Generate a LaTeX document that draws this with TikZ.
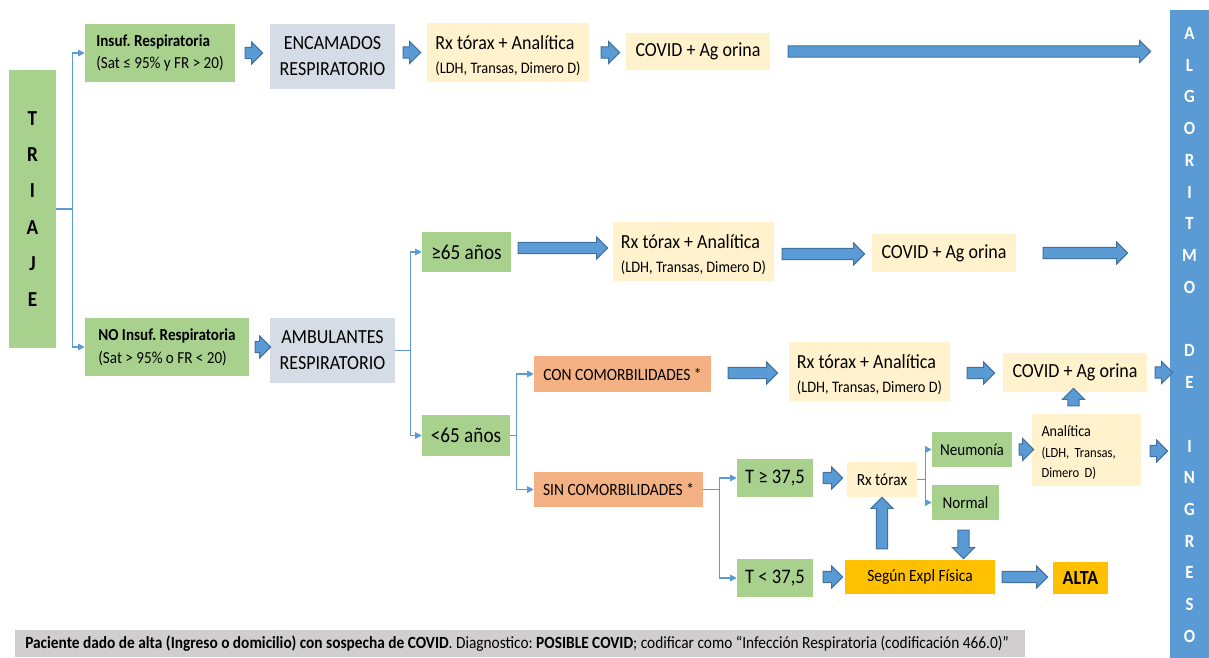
\documentclass[tikz,border=0pt]{standalone}
\usepackage{fontspec}
\setmainfont{Carlito}[FakeStretch=0.9]
\usetikzlibrary{arrows.meta,calc,shapes.arrows}
\definecolor{boxgreen}{HTML}{A9D18E}
\definecolor{boxgray}{HTML}{D6DCE5}
\definecolor{boxyellow}{HTML}{FFF2CC}
\definecolor{boxsalmon}{HTML}{F4B183}
\definecolor{boxgold}{HTML}{FFC000}
\definecolor{barblue}{HTML}{5B9BD5}
\definecolor{lineblue}{HTML}{5B9BD5}
\definecolor{arrowblue}{HTML}{5B9BD5}
\definecolor{arrowedge}{HTML}{41719C}
\definecolor{footgray}{HTML}{D0CECE}
\tikzset{box/.style={inner sep=0pt, align=center, font=\fontsize{15}{19.5}\selectfont},
  grn/.style={box, fill=boxgreen}, gry/.style={box, fill=boxgray},
  ylw/.style={box, fill=boxyellow}, sal/.style={box, fill=boxsalmon},
  gld/.style={box, fill=boxgold},
  sz/.style 2 args={minimum width=#1*0.75pt, minimum height=#2*0.75pt},
  lnk/.style={draw=lineblue, line width=0.8pt},
  lnkarr/.style={lnk, -{Triangle[length=5pt,width=5pt]}},
  blk/.style={single arrow, draw=arrowedge, fill=arrowblue, line width=0.8pt,
    single arrow head extend=4pt, single arrow tip angle=90, inner xsep=0pt, inner ysep=3.8pt}}
\newcommand\subtxt[1]{{\fontsize{12}{14}\selectfont #1}}
\newcommand\topstrut{\rule{0pt}{15pt}}
\newcommand\blkarr[2]{\path let \p1=#1, \p2=#2, \n1={veclen(\x2-\x1,\y2-\y1)}, \n2={atan2(\y2-\y1,\x2-\x1)}
  in ($(\p1)!.5!(\p2)$) node[blk, minimum height=\n1, rotate=\n2] {};}

\begin{document}
\frenchspacing
\begin{tikzpicture}[x=0.75pt,y=-0.75pt]
  \useasboundingbox (0,0) rectangle (1209,657);
  % triaje and the two branches
  \node[grn, sz={47}{278}, font=\fontsize{16}{27.2}\selectfont\bfseries] (triaje) at (32.5,209) {T\\R\\I\\A\\J\\E};
  \node[grn, sz={150}{58}, align=left, font=\fontsize{12.6}{17}\selectfont] (insuf) at (160,53) {\textbf{Insuf. Respiratoria}\\(Sat ≤ 95\% y FR > 20)};
  \node[grn, sz={164}{58}, align=left, font=\fontsize{12.6}{17}\selectfont] (noinsuf) at (167,347) {\textbf{NO Insuf. Respiratoria}\\(Sat > 95\% o FR < 20)};
  \draw[lnk] (triaje.east) -- ++(16,0) coordinate (t1);
  \draw[lnkarr] (t1) |- (insuf.west);
  \draw[lnkarr] (t1) |- (noinsuf.west);
  % encamados
  \node[gry, sz={125}{65}] (encam) at (332.5,56.5) {ENCAMADOS\\RESPIRATORIO};
  \node[ylw, sz={162}{59}, align=left] (rx1) at (508,52.5) {\topstrut Rx tórax + Analítica\\[-2pt]\subtxt{(LDH, Transas, Dimero D)}};
  \node[ylw, sz={144}{37}] (covid1) at (698,51.5) {COVID + Ag orina};
  \node[fill=barblue, sz={39}{650}, inner sep=0pt, align=center, text=white,
    font=\fontsize{14}{23.8}\selectfont\bfseries] (bar) at (1189.5,335)
    {A\\L\\G\\O\\R\\I\\T\\M\\O\\[23.8pt]D\\E\\[23.8pt]I\\N\\G\\R\\E\\S\\O};
  \blkarr{($(insuf.east)+(7,0)$)}{($(encam.west|-insuf.east)+(-10,0)$)}
  \blkarr{($(encam.east|-rx1.west)+(5,0)$)}{($(rx1.west)+(-9,0)$)}
  \blkarr{($(rx1.east)+(9,0)$)}{($(covid1.west|-rx1.east)+(-9,0)$)}
  \blkarr{($(covid1.east)+(15,0)$)}{($(bar.west|-covid1.east)+(-22,0)$)}
  % ambulantes
  \node[gry, sz={125}{65}] (ambul) at (332.5,350.5) {AMBULANTES\\RESPIRATORIO};
  \blkarr{($(noinsuf.east)+(3,0)$)}{($(ambul.west|-noinsuf.east)+(-2,0)$)}
  \node[grn, sz={89}{40}, font=\fontsize{16}{19}\selectfont] (may65) at (466.5,252) {≥65 años};
  \node[grn, sz={88}{41}, font=\fontsize{16}{19}\selectfont] (men65) at (466,435.5) {<65 años};
  \draw[lnk] (ambul.east) -- ++(15,0) coordinate (t2);
  \draw[lnkarr] (t2) |- (may65.west);
  \draw[lnkarr] (t2) |- (men65.west);
  \node[ylw, sz={161}{59}, align=left] (rx2) at (693.5,251.5) {\topstrut Rx tórax + Analítica\\[-2pt]\subtxt{(LDH, Transas, Dimero D)}};
  \node[ylw, sz={144}{38}] (covid2) at (944,253) {COVID + Ag orina};
  \blkarr{($(may65.east)+(4,-4)$)}{($(rx2.west|-may65.east)+(-8,-4)$)}
  \blkarr{($(rx2.east)+(5,2.5)$)}{($(covid2.west|-rx2.east)+(-10,2.5)$)}
  \blkarr{($(covid2.east)+(24,0)$)}{($(bar.west|-covid2.east)+(-45,0)$)}
  % menores de 65
  \node[sal, sz={177}{36}, font=\fontsize{12.9}{15}\selectfont] (con) at (622.5,374) {CON COMORBILIDADES *};
  \node[sal, sz={169}{35}, font=\fontsize{12.9}{15}\selectfont] (sin) at (618.5,489.5) {SIN COMORBILIDADES *};
  \draw[lnk] (men65.east) -- ++(6,0) coordinate (t3);
  \draw[lnkarr] (t3) |- (con.west);
  \draw[lnkarr] (t3) |- (sin.west);
  \node[ylw, sz={161}{59}, align=left] (rx3) at (869.5,371.5) {\topstrut Rx tórax + Analítica\\[-2pt]\subtxt{(LDH, Transas, Dimero D)}};
  \node[ylw, sz={144}{39}] (covid3) at (1075,372.5) {COVID + Ag orina};
  \blkarr{($(con.east)+(14,-1)$)}{($(rx3.west|-con.east)+(-14,-1)$)}
  \blkarr{($(rx3.east)+(14,1.5)$)}{($(covid3.west|-rx3.east)+(-11,1.5)$)}
  \blkarr{($(covid3.east)+(5,0)$)}{($(bar.west|-covid3.east)+(0,0)$)}
  % sin comorbilidades
  \node[grn, sz={76}{38}, font=\fontsize{15.5}{18}\selectfont] (tmay) at (775,478) {T ≥ 37,5};
  \node[grn, sz={76}{38}, font=\fontsize{15.5}{18}\selectfont] (tmen) at (775,578) {T < 37,5};
  \draw[lnk] (sin.east) -- ++(16,0) coordinate (t4);
  \draw[lnkarr] (t4) |- (tmay.west);
  \draw[lnkarr] (t4) |- (tmen.west);
  \node[ylw, sz={70}{35}, font=\fontsize{12.8}{15}\selectfont] (rxt) at (882,479.5) {Rx tórax};
  \node[grn, sz={80}{35}, font=\fontsize{12.6}{15}\selectfont] (neum) at (972,449.5) {Neumonía};
  \node[grn, sz={67}{35}, font=\fontsize{12.6}{15}\selectfont] (normal) at (965.5,502.5) {Normal};
  \draw[lnk] (rxt.east) -- ++(8,0) coordinate (t5);
  \draw[lnkarr] (t5) |- (neum.west);
  \draw[lnkarr] (t5) |- (normal.west);
  \node[ylw, sz={109}{72}, align=left, text width=67.5pt, inner xsep=7pt,
    font=\fontsize{11.8}{15.5}\selectfont] (anal) at (1086.5,450)
    {\rule{0pt}{12pt}Analítica\\{\fontsize{10.5}{15.5}\selectfont (LDH, Transas,}\\{\fontsize{10.5}{15.5}\selectfont Dimero D)}};
  \node[gld, sz={150}{34}, font=\fontsize{12.9}{15}\selectfont] (segun) at (920,577) {Según Expl Física};
  \node[gld, sz={55}{32}, font=\fontsize{15}{18}\selectfont\bfseries] (alta) at (1080.5,578) {ALTA};
  \blkarr{($(tmay.east)+(7,0)$)}{($(rxt.west|-tmay.east)+(-7,0)$)}
  \blkarr{($(neum.east)+(4,0)$)}{($(anal.west|-neum.east)+(-1,0)$)}
  \blkarr{($(anal.east)+(6,1)$)}{($(bar.west|-anal.east)+(-5,1)$)}
  \blkarr{($(anal.north)+(-13,-5)$)}{($(covid3.south-|anal.north)+(-13,-1)$)}
  \blkarr{($(tmen.east)+(7,-1)$)}{($(segun.west|-tmen.east)+(-5,-1)$)}
  \blkarr{($(segun.east)+(4,0)$)}{($(alta.west|-segun.east)+(-8,0)$)}
  \blkarr{($(rxt.south|-segun.north)+(0,-8)$)}{($(rxt.south)+(0,3)$)}
  \blkarr{($(normal.south)+(-2,7)$)}{($(normal.south|-segun.north)+(-2,-4)$)}
  % nota al pie
  \node[fill=footgray, anchor=north west, minimum height=27*0.75pt, inner xsep=7.5pt,
    inner ysep=0pt, font=\fontsize{12.8}{14}\selectfont] (nota) at (15,630)
    {\makebox[742.5pt][l]{\textbf{Paciente dado de alta (Ingreso o domicilio) con sospecha de COVID}. Diagnostico: \textbf{POSIBLE COVID}; codificar como “Infección Respiratoria (codificación 466.0)”}};
\end{tikzpicture}
\end{document}
